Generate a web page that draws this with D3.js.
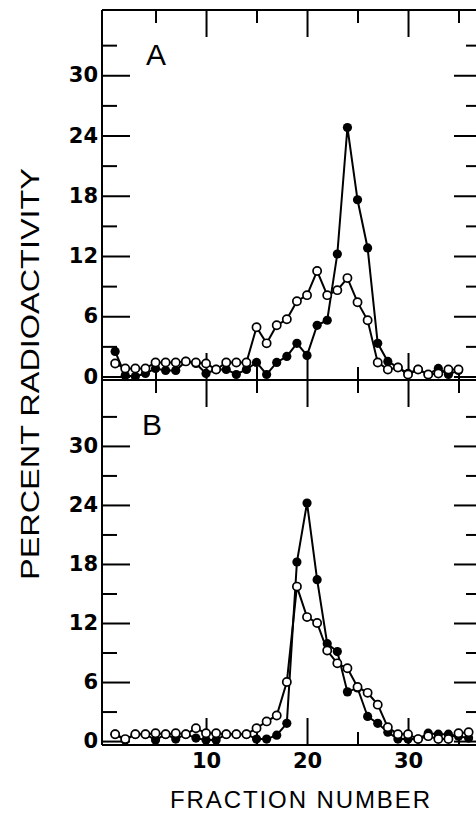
<!DOCTYPE html>
<html><head><meta charset="utf-8">
<script src="https://cdn.jsdelivr.net/npm/d3@7"></script>
<style>body{margin:0;background:#fff}svg{display:block}</style>
</head><body><svg id="c" width="476" height="817"></svg>
<script>
// ---- data ----
const fractionsA = [1,2,3,4,5,6,7,8,9,10,11,12,13,14,15,16,17,18,19,20,21,22,23,24,25,26,27,28,29,30,31,32,33,34,35];
const openA   = [1.3,0.8,0.8,0.8,1.4,1.4,1.4,1.5,1.4,1.3,0.7,1.4,1.4,1.4,4.9,3.3,5.1,5.7,7.5,8.1,10.5,8.1,8.6,9.8,7.4,5.6,1.4,0.7,0.9,0.2,0.7,0.2,0.3,0.7,0.7];
const filledA = [2.5,0.1,0.0,0.3,0.8,0.6,0.6,1.5,1.3,0.3,0.7,0.7,0.2,0.7,1.4,0.2,1.4,2.0,3.3,2.1,5.1,5.6,12.2,24.8,17.6,12.8,3.3,1.5,0.9,0.3,0.7,0.2,0.8,0.2,0.6];
const fractionsB = [1,2,3,4,5,6,7,8,9,10,11,12,13,14,15,16,17,18,19,20,21,22,23,24,25,26,27,28,29,30,31,32,33,34,35,36];
const openB   = [0.7,0.2,0.7,0.7,0.8,0.7,0.8,0.7,1.3,0.8,0.8,0.7,0.7,0.7,1.3,2.0,2.6,6.0,15.7,12.6,12.0,9.2,7.9,7.4,5.5,4.9,3.7,1.4,0.7,0.7,0.2,0.5,0.2,0.2,0.8,0.9];
const filledB = [0.7,0.1,0.7,0.7,0.1,0.7,0.2,0.7,0.3,0.1,0.1,0.7,0.7,0.7,0.2,0.2,0.6,1.8,18.2,24.2,16.4,9.9,9.1,5.0,5.4,2.5,1.8,0.9,0.2,0.2,0.2,0.8,0.7,0.7,0.5,0.3];
const yMajorTicks = [0,6,12,18,24,30];
const yMinorTicks = [3,9,15,21,27,33];
const xMajorTicks = [10,20,30];
const xMinorTicks = [5,15,25,35];
const panelLabels = ["A","B"];
const yTitle = "PERCENT RADIOACTIVITY";
const xTitle = "FRACTION NUMBER";

// ---- layout ----
const svg = d3.select("#c");
const L = 102, R = 477, T = 10, M = 380, B = 745;
const x = d3.scaleLinear().domain([-0.3, 36.83]).range([L, R]);
const yA = d3.scaleLinear().domain([-0.35, 36.5]).range([M, T]);
const yB = d3.scaleLinear().domain([-0.4, 36.7]).range([B, M]);

const panels = [
  {label: panelLabels[0], y: yA, top: T, bottom: M, fr: fractionsA, open: openA, filled: filledA, lx: 146, ly: 65, xlabels: false},
  {label: panelLabels[1], y: yB, top: M, bottom: B, fr: fractionsB, open: openB, filled: filledB, lx: 142, ly: 435, xlabels: true}
];

function styleAxis(g) {
  g.select(".domain").remove();
  g.selectAll(".tick line").attr("stroke", "#000").attr("stroke-width", 2);
  g.selectAll(".tick text").attr("fill", "#000")
    .style("font-family", "'DejaVu Sans', sans-serif").style("font-weight", "bold").style("font-size", "21px");
}

panels.forEach(p => {
  const y = p.y;
  // left
  svg.append("g").attr("transform", `translate(${L},0)`)
    .call(d3.axisLeft(y).tickValues(yMajorTicks).tickSize(-28).tickPadding(4).tickFormat(d3.format("d"))).call(styleAxis);
  svg.append("g").attr("transform", `translate(${L},0)`)
    .call(d3.axisLeft(y).tickValues(yMinorTicks).tickSize(-15).tickFormat("")).call(styleAxis);
  // right
  svg.append("g").attr("transform", `translate(${R},0)`)
    .call(d3.axisRight(y).tickValues(yMajorTicks).tickSize(-23).tickFormat("")).call(styleAxis);
  svg.append("g").attr("transform", `translate(${R},0)`)
    .call(d3.axisRight(y).tickValues(yMinorTicks).tickSize(-11).tickFormat("")).call(styleAxis);
  // top
  svg.append("g").attr("transform", `translate(0,${p.top})`)
    .call(d3.axisTop(x).tickValues(xMajorTicks).tickSize(-27).tickFormat("")).call(styleAxis);
  svg.append("g").attr("transform", `translate(0,${p.top})`)
    .call(d3.axisTop(x).tickValues(xMinorTicks).tickSize(-13).tickFormat("")).call(styleAxis);
  // bottom
  svg.append("g").attr("transform", `translate(0,${p.bottom})`)
    .call(d3.axisBottom(x).tickValues(xMajorTicks).tickSize(-27).tickPadding(8)
      .tickFormat(p.xlabels ? d3.format("d") : "")).call(styleAxis);
  svg.append("g").attr("transform", `translate(0,${p.bottom})`)
    .call(d3.axisBottom(x).tickValues(xMinorTicks).tickSize(-13).tickFormat("")).call(styleAxis);

  // panel letter
  svg.append("text").attr("x", p.lx).attr("y", p.ly).text(p.label)
    .style("font-family", "'Liberation Sans', sans-serif").style("font-size", "30px").attr("fill", "#000");

  const openPts = p.fr.map((f, i) => [f, p.open[i]]);
  const filledPts = p.fr.map((f, i) => [f, p.filled[i]]);
  const line = d3.line().x(d => x(d[0])).y(d => y(d[1]));
  svg.append("path").datum(openPts).attr("d", line).attr("fill", "none").attr("stroke", "#000").attr("stroke-width", 2);
  svg.append("path").datum(filledPts).attr("d", line).attr("fill", "none").attr("stroke", "#000").attr("stroke-width", 2);
  svg.append("g").selectAll("circle").data(filledPts).join("circle")
    .attr("cx", d => x(d[0])).attr("cy", d => y(d[1])).attr("r", 4.6).attr("fill", "#000");
  svg.append("g").selectAll("circle").data(openPts).join("circle")
    .attr("cx", d => x(d[0])).attr("cy", d => y(d[1])).attr("r", 4.1)
    .attr("fill", "#fff").attr("stroke", "#000").attr("stroke-width", 1.7);
});

// frame
const frame = svg.append("g").attr("stroke", "#000").attr("stroke-width", 2).attr("fill", "none");
frame.append("line").attr("x1", L).attr("x2", L).attr("y1", T).attr("y2", B);
frame.append("line").attr("x1", R).attr("x2", R).attr("y1", T).attr("y2", B);
[T, M, B].forEach(yy => frame.append("line").attr("x1", L).attr("x2", R).attr("y1", yy).attr("y2", yy));

// titles
svg.append("text").attr("transform", "translate(39,374) rotate(-90)")
  .attr("text-anchor", "middle").attr("textLength", 412).attr("lengthAdjust", "spacingAndGlyphs")
  .style("font-family", "'Liberation Sans', sans-serif").style("font-size", "26px").attr("fill", "#000")
  .text(yTitle);
svg.append("text").attr("x", 300).attr("y", 808)
  .attr("text-anchor", "middle").attr("textLength", 260).attr("lengthAdjust", "spacing")
  .style("font-family", "'Liberation Sans', sans-serif").style("font-size", "24px").attr("fill", "#000")
  .text(xTitle);
</script>
</body></html>
